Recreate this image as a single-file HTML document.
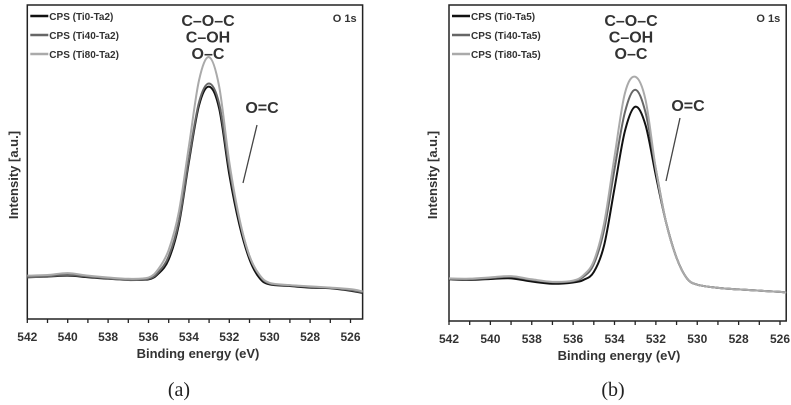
<!DOCTYPE html>
<html><head><meta charset="utf-8"><style>
body{margin:0;background:#fff;}
svg{display:block;font-family:"Liberation Sans",sans-serif;}
</style></head><body>
<svg id="chart" width="791" height="405" viewBox="0 0 791 405"></svg>
<script>
const energies=[542,541,540,539,538,537,536,535.5,535,534.5,534,533.5,533,532.5,532,531.5,531,530.5,530,529,528,527,526,525.4];
const aTi0=[13.4,13.5,13.8,13.3,12.8,12.5,12.6,14.5,19,30,50,68,74,67,46,30,19,13,11,10.5,10,9.8,9,8.3];
const aTi40=[13.2,13.6,14,13.5,12.9,12.4,12.8,15,20,31,51,69,75,68.5,48,31.5,20,13.8,11.3,10.7,10.2,9.9,9.2,8.5];
const aTi80=[13.8,14,14.6,13.8,13.2,12.8,13.2,16,22,34,55,76,83.4,74,50,32,20,14,11.5,10.8,10.4,10,9.5,8.8];
const bTi0=[13.2,13,13.3,13.5,12.5,11.8,12.2,13,15.5,24,42,60,67.8,62,46,31,20,13.5,11.5,10.5,10,9.6,9.2,9];
const bTi40=[13.3,13.2,13.6,14,13,12.3,12.6,14,18,29,48,66,73.2,66,48,31,20,13.5,11.5,10.5,10,9.6,9.2,9];
const bTi80=[13.5,13.4,13.8,14.2,13.2,12.4,12.8,14.5,19,31,52,72,77.3,70,48,31,20,13.5,11.5,10.5,10,9.6,9.2,9];
const xTicks=[542,540,538,536,534,532,530,528,526];
const legendA=["CPS (Ti0-Ta2)","CPS (Ti40-Ta2)","CPS (Ti80-Ta2)"];
const legendB=["CPS (Ti0-Ta5)","CPS (Ti40-Ta5)","CPS (Ti80-Ta5)"];
const colors=["#111","#666","#aaa"];
const NS="http://www.w3.org/2000/svg";
const svg=document.getElementById('chart');
function mk(tag,attrs,parent,text){const e=document.createElementNS(NS,tag);for(const k in attrs)e.setAttribute(k,attrs[k]);if(text!==undefined)e.textContent=text;(parent||svg).appendChild(e);return e;}
function smooth(pts){let d="M"+pts[0][0]+","+pts[0][1];for(let i=0;i<pts.length-1;i++){const p0=pts[i-1]||pts[i],p1=pts[i],p2=pts[i+1],p3=pts[i+2]||p2;const c1=[p1[0]+(p2[0]-p0[0])/6,p1[1]+(p2[1]-p0[1])/6],c2=[p2[0]-(p3[0]-p1[0])/6,p2[1]-(p3[1]-p1[1])/6];d+=" C"+c1.join(",")+" "+c2.join(",")+" "+p2.join(",");}return d;}
function panel(cfg){
  const g=mk('g',{});
  
  
  const ppe=(cfg.x526-cfg.x542)/16;
  const xs=e=>cfg.x542+(542-e)*ppe;
  const ys=v=>cfg.bottom-v*(cfg.bottom-cfg.top)/100;
  const right=xs(cfg.eMin);
  const frame=mk('rect',{x:cfg.x542,y:cfg.top,width:right-cfg.x542,height:cfg.bottom-cfg.top,fill:'none',stroke:'#222','stroke-width':1.5},g);
  
  
  for(let e=542;e>=526;e--){const t=mk('line',{x1:xs(e),x2:xs(e),y1:cfg.bottom,y2:cfg.bottom+4,stroke:'#222','stroke-width':1.3},g);
    
    }
  xTicks.forEach(e=>{const t=mk('text',{x:xs(e),y:cfg.bottom+22,'text-anchor':'middle','font-size':12,'font-weight':'bold',fill:'#333'},g,String(e));
    
    });
  const xt=mk('text',{x:cfg.xTitleX,y:cfg.bottom+39,'text-anchor':'middle','font-size':13,'font-weight':'bold',fill:'#333'},g,'Binding energy (eV)');
  
  
  const yt=mk('text',{x:0,y:0,'text-anchor':'middle','font-size':13,'font-weight':'bold',fill:'#333',transform:`translate(${cfg.yTitleX},175) rotate(-90)`},g,'Intensity [a.u.]');
  
  
  cfg.series.forEach((s,i)=>{const pts=energies.map((e,j)=>[+xs(Math.max(e,cfg.eMin)).toFixed(2),+ys(s[j]).toFixed(2)]);
    const p=mk('path',{d:smooth(pts),fill:'none',stroke:colors[i],'stroke-width':2},g);
    
    });
  cfg.legend.forEach((l,i)=>{const y=16+i*19;
    const ln=mk('line',{x1:cfg.x542+3,x2:cfg.x542+21,y1:y,y2:y,stroke:colors[i],'stroke-width':2.5},g);
    
    
    const tx=mk('text',{x:cfg.x542+22,y:y+4,'font-size':10,'font-weight':'bold',fill:'#333'},g,l);
    
    });
  ["C–O–C","C–OH","O–C"].forEach((t,i)=>{const e=mk('text',{x:cfg.annX,y:26+i*16.5,'text-anchor':'middle','font-size':16,'font-weight':600,fill:'#333'},g,t);
    
    });
  const oc=mk('text',{x:cfg.ocX,y:cfg.ocY,'text-anchor':'middle','font-size':16,'font-weight':600,fill:'#333'},g,'O=C');
  
  
  const ol=mk('line',{x1:cfg.ocLine[0],y1:cfg.ocLine[1],x2:cfg.ocLine[2],y2:cfg.ocLine[3],stroke:'#444','stroke-width':1.3},g);
  
  
  const o1=mk('text',{x:right-6,y:22,'text-anchor':'end','font-size':11,'font-weight':'bold',fill:'#333'},g,'O 1s');
  
  
  const pl=mk('text',{x:cfg.labX,y:396,'text-anchor':'middle','font-size':20,fill:'#222','font-family':'Liberation Serif, serif'},g,cfg.lab);
  
  
}
panel({name:'panel-a',x542:27.3,x526:350.5,eMin:525.4,top:5,bottom:319,series:[aTi0,aTi40,aTi80],legend:legendA,annX:208,ocX:262,ocY:113,ocLine:[257,125,243,183],xTitleX:198,yTitleX:18,labX:179,lab:'(a)'});
panel({name:'panel-b',x542:449,x526:780,eMin:525.7,top:5,bottom:321,series:[bTi0,bTi40,bTi80],legend:legendB,annX:631,ocX:688,ocY:111,ocLine:[680,118,666,181],xTitleX:619,yTitleX:437,labX:613,lab:'(b)'});
</script>
</body></html>
